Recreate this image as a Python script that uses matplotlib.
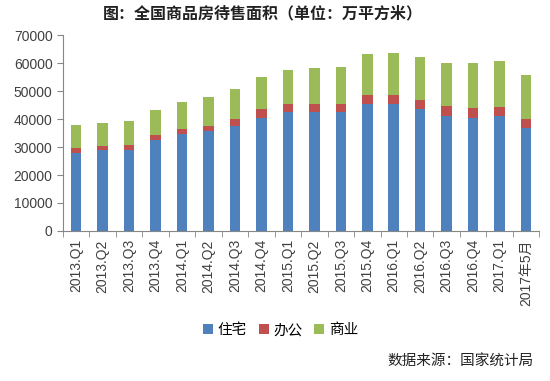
import numpy as np
import matplotlib
matplotlib.use("Agg")
import matplotlib.pyplot as plt
from matplotlib.patches import Patch

plt.rcParams['font.family'] = ['Liberation Sans', 'Noto Sans CJK SC']

# data (万平方米)
periods = ['2013.Q1', '2013.Q2', '2013.Q3', '2013.Q4',
           '2014.Q1', '2014.Q2', '2014.Q3', '2014.Q4',
           '2015.Q1', '2015.Q2', '2015.Q3', '2015.Q4',
           '2016.Q1', '2016.Q2', '2016.Q3', '2016.Q4',
           '2017.Q1', '2017年5月']
residential = [27800, 28800, 29100, 32400, 34700, 35600, 37400, 40600, 42500,
               42500, 42500, 45300, 45600, 43600, 41200, 40300, 41000, 36700]
office = [1800, 1700, 1700, 2000, 1900, 2100, 2600, 3000, 3100,
          3100, 3100, 3300, 3200, 3400, 3600, 3700, 3300, 3400]
commercial = [8200, 8100, 8700, 9000, 9700, 10400, 10800, 11500, 12100,
              12600, 13100, 14800, 15000, 15100, 15500, 16000, 16500, 15900]
series_names = ['住宅', '办公', '商业']
colors = ['#4F81BD', '#C0504D', '#9BBB59']

fig = plt.figure(figsize=(5.5, 3.81), dpi=100)
ax = fig.add_axes([0.1145, 0.394, 0.866, 0.513])

x = np.arange(len(periods))
w = 0.4
bottom = np.zeros(len(periods))
for vals, c in zip([residential, office, commercial], colors):
    ax.bar(x, vals, w, bottom=bottom, color=c, zorder=2)
    bottom += np.array(vals)

GRAY = '#868686'
TXT = '#404040'
ax.set_xlim(-0.5, len(periods) - 0.5)
ax.set_ylim(0, 70000)
ax.set_yticks(np.arange(0, 70001, 10000))
ax.set_xticks(x)
ax.set_xticklabels(periods, rotation=90, fontsize=10, color=TXT)
ax.set_xticks(np.arange(-0.5, len(periods), 1), minor=True)
ax.tick_params(axis='x', which='major', length=0, pad=6)
ax.tick_params(axis='x', which='minor', length=4, color=GRAY, direction='out')
ax.tick_params(axis='y', length=4, color=GRAY, labelsize=10, labelcolor=TXT)
for s in ['top', 'right']:
    ax.spines[s].set_visible(False)
for s in ['left', 'bottom']:
    ax.spines[s].set_color(GRAY)

fig.text(0.478, 0.965, '图：全国商品房待售面积（单位：万平方米）', ha='center',
         va='center', fontsize=11.5, fontweight='bold', color='#222222',
         family=['Noto Sans CJK SC'])

handles = [Patch(facecolor=c) for c in colors]
fig.legend(handles, series_names, loc='center', bbox_to_anchor=(0.51, 0.133),
           ncol=3, frameon=False, handlelength=0.7,
           handleheight=0.7, handletextpad=0.3, columnspacing=0.8,
           prop={'family': ['Noto Sans CJK SC'], 'size': 10.5, 'weight': 'medium'})

fig.text(0.97, 0.05, '数据来源：国家统计局', ha='right', va='center',
         fontsize=10.5, color='#222222', family=['Noto Sans CJK SC'])

fig.savefig('out.png', dpi=100, facecolor='white')
